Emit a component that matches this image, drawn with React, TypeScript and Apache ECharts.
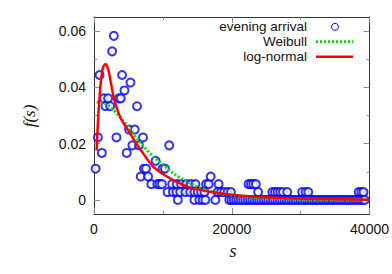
import React, { useEffect, useRef } from "react";
import * as echarts from "echarts";

// ---- axes ----
const xMin = 0;
const xMax = 40000;
const xInterval = 20000;
const yMin = -0.005;
const yMax = 0.065;
const yTickLabels = [0, 0.02, 0.04, 0.06];
const yMinorTicks = [0.01, 0.03, 0.05];

// ---- legend labels ----
const seriesNames = ["evening arrival", "Weibull", "log-normal"];

// ---- empirical distribution (evening arrival) ----
const arrivalX = [
  230, 563, 810, 1140, 1430, 1670, 2050, 2340, 2630, 2880, 3260, 3600, 3890, 4075, 4420,
  4750, 5090, 5290, 5570, 5910, 6245, 6530, 6780, 7110, 7250, 7550, 7860, 8320, 8940,
  9190, 9520, 9860, 9960, 10300, 10680, 10920,
  11350, 12020, 12660, 13380, 14050, 14720, 16270, 16650, 18090, 22430, 22780, 23130, 23500,
  11450, 11980, 12520, 13280, 13960, 14580, 15060, 15550, 16030, 17950, 18440, 18920, 19400,
  19880, 23830, 25880, 26270, 26660, 27040, 27430, 28050, 30220, 30710, 31100, 38420, 38800, 39130,
  16940,
  12170, 14580, 15300, 15780, 16170, 17610,
  19640, 19970, 20300, 20640, 20970, 21300, 21640, 21970, 22300, 22640, 22970, 23300, 23640,
  23970, 24300, 24640, 24970, 25300, 25640, 25970, 26300, 26640, 26970, 27300, 27640, 27970,
  28300, 28640, 28970, 29300, 29640, 29970, 30300, 30640, 30970, 31300, 31640, 31970, 32300,
  32640, 32970, 33300, 33640, 33970, 34300, 34640, 34970, 35300, 35640, 35970, 36300, 36640,
  36970, 37300, 37640, 37970, 38300, 38640, 38970, 39300, 39640,
];
const arrivalY = [
  0.0111, 0.0222, 0.0444, 0.0167, 0.0361, 0.0333, 0.0361, 0.0333, 0.0528, 0.0583, 0.0222, 0.0361, 0.0361, 0.0444, 0.0389,
  0.0167, 0.025, 0.0417, 0.0194, 0.025, 0.0333, 0.0194, 0.0083, 0.0222, 0.0111, 0.0111, 0.0083, 0.0056, 0.0139,
  0.0056, 0.0056, 0.0056, 0.0111, 0.0111, 0.0028, 0.0194,
  0.0056, 0.0056, 0.0056, 0.0056, 0.0056, 0.0056, 0.0056, 0.0056, 0.0056, 0.0056, 0.0056, 0.0056, 0.0056,
  0.0028, 0.0028, 0.0028, 0.0028, 0.0028, 0.0028, 0.0028, 0.0028, 0.0028, 0.0028, 0.0028, 0.0028, 0.0028,
  0.0028, 0.0028, 0.0028, 0.0028, 0.0028, 0.0028, 0.0028, 0.0028, 0.0028, 0.0028, 0.0028, 0.0028, 0.0028, 0.0028,
  0.0083,
  0, 0, 0, 0, 0, 0,
  0, 0, 0, 0, 0, 0, 0, 0, 0, 0, 0, 0, 0,
  0, 0, 0, 0, 0, 0, 0, 0, 0, 0, 0, 0,
  0, 0, 0, 0, 0, 0, 0, 0, 0, 0, 0, 0, 0,
  0, 0, 0, 0, 0, 0, 0, 0, 0, 0, 0, 0, 0,
  0, 0, 0, 0, 0, 0, 0, 0, 0,
];

// ---- Weibull fit ----
const weibullX = [400, 1000, 2000, 3000, 4000, 5000, 6000, 7000, 8000, 9000, 10000, 11000, 12000, 13000, 14000, 15000, 16500, 18000, 20000, 23000, 26000, 30000, 35000, 40000];
const weibullY = [0.0348, 0.0345, 0.0338, 0.0315, 0.0288, 0.0258, 0.0225, 0.0196, 0.0168, 0.0145, 0.0127, 0.0104, 0.0086, 0.0071, 0.0059, 0.0047, 0.0033, 0.0024, 0.0016, 0.0009, 0.0005, 0.0002, 0.0001, 0.00003];

// ---- log-normal fit ----
const lognormX = [380, 500, 700, 1000, 1300, 1700, 2100, 2500, 2900, 3400, 4000, 5000, 6000, 7000, 8500, 10000, 11000, 12000, 14000, 15000, 17000, 20000, 24000, 28000, 33000, 40000];
const lognormY = [0.0175, 0.024, 0.033, 0.042, 0.047, 0.0483, 0.046, 0.041, 0.036, 0.032, 0.0284, 0.0246, 0.0205, 0.017, 0.012, 0.0092, 0.0077, 0.0064, 0.0043, 0.0038, 0.0028, 0.0018, 0.001, 0.0006, 0.0003, 0.0001];

const BLUE = "#0000ff";
const GREEN = "#00dd00";
const RED = "#ff0000";
const AXIS = "#333333";

export default function App() {
  const ref = useRef<HTMLDivElement>(null);
  useEffect(() => {
    if (!ref.current) return;
    const chart = echarts.init(ref.current, null, { renderer: "svg" });
    const labelFont = { fontFamily: "Liberation Sans, Arial, sans-serif", fontSize: 14, color: "#111" };
    const baseX = (pos: "bottom" | "top", showLabel: boolean) => ({
      type: "value",
      position: pos,
      min: xMin,
      max: xMax,
      interval: xInterval,
      axisLine: { show: true, onZero: false, lineStyle: { color: AXIS, width: 1 } },
      axisTick: { show: true, inside: true, length: 6, lineStyle: { color: "#888" } },
      minorTick: { show: true, splitNumber: 2, length: 3, lineStyle: { color: "#888" } },
      axisLabel: { show: showLabel, margin: 8, ...labelFont, formatter: (v: number) => String(v) },
      splitLine: { show: false },
      minorSplitLine: { show: false },
    });
    const baseY = (pos: "left" | "right", ticks: number[], len: number, showLabel: boolean) => ({
      type: "value",
      position: pos,
      min: yMin,
      max: yMax,
      axisLine: { show: true, onZero: false, lineStyle: { color: AXIS, width: 1 } },
      axisTick: { show: true, inside: true, length: len, customValues: ticks, lineStyle: { color: "#888" } },
      axisLabel: {
        show: showLabel,
        customValues: yTickLabels,
        margin: 8,
        ...labelFont,
        formatter: (v: number) => (Math.abs(v) < 1e-9 ? "0" : v.toFixed(2)),
      },
      splitLine: { show: false },
    });
    const legendTextX = 307;
    const legendRows = [26.8, 41.8, 56.8];
    chart.setOption({
      animation: false,
      grid: { left: 94, top: 17, right: 22, bottom: 60, containLabel: false },
      xAxis: [baseX("bottom", true), baseX("top", false)],
      yAxis: [
        baseY("left", yTickLabels, 6, true),
        baseY("left", yMinorTicks, 3, false),
        baseY("right", yTickLabels, 6, false),
        baseY("right", yMinorTicks, 3, false),
      ],
      series: [
        {
          name: seriesNames[0],
          type: "scatter",
          symbol: "emptyCircle",
          symbolSize: 8,
          itemStyle: { color: BLUE, borderColor: BLUE, borderWidth: 1 },
          data: arrivalX.map((x, i) => [x, arrivalY[i]]),
          z: 1,
        },
        {
          name: seriesNames[1],
          type: "line",
          showSymbol: false,
          symbol: "none",
          lineStyle: { color: GREEN, width: 3, type: [2, 2] },
          data: weibullX.map((x, i) => [x, weibullY[i]]),
          z: 2,
        },
        {
          name: seriesNames[2],
          type: "line",
          showSymbol: false,
          symbol: "none",
          smooth: 0.3,
          lineStyle: { color: RED, width: 2.5 },
          data: lognormX.map((x, i) => [x, lognormY[i]]),
          z: 3,
        },
      ],
      graphic: [
        {
          type: "text",
          x: 29,
          y: 116,
          rotation: Math.PI / 2,
          style: {
            text: "f(s)",
            font: "italic 17px 'Liberation Serif', 'DejaVu Serif', serif",
            fill: "#111",
            align: "center",
            verticalAlign: "middle",
          },
        },
        {
          type: "text",
          x: 233,
          y: 251,
          style: {
            text: "s",
            font: "italic 18px 'Liberation Serif', 'DejaVu Serif', serif",
            fill: "#111",
            align: "center",
            verticalAlign: "middle",
          },
        },
        ...seriesNames.map((n, i) => ({
          type: "text",
          x: legendTextX,
          y: legendRows[i],
          style: {
            text: n,
            font: "13.5px 'Liberation Sans', Arial, sans-serif",
            lineHeight: 13,
            fill: "#111",
            align: "right",
            verticalAlign: "middle",
          },
        })),
        {
          type: "circle",
          shape: { cx: 335, cy: legendRows[0], r: 3.5 },
          style: { fill: "none", stroke: BLUE, lineWidth: 1 },
        },
        {
          type: "line",
          shape: { x1: 316, y1: legendRows[1], x2: 353, y2: legendRows[1] },
          style: { stroke: GREEN, lineWidth: 3, lineDash: [2, 2] },
        },
        {
          type: "line",
          shape: { x1: 316, y1: legendRows[2], x2: 353, y2: legendRows[2] },
          style: { stroke: RED, lineWidth: 2.5 },
        },
      ],
    });
    return () => chart.dispose();
  }, []);
  return <div ref={ref} style={{ width: 392, height: 274, position: "absolute", left: 0, top: 0 }} />;
}
